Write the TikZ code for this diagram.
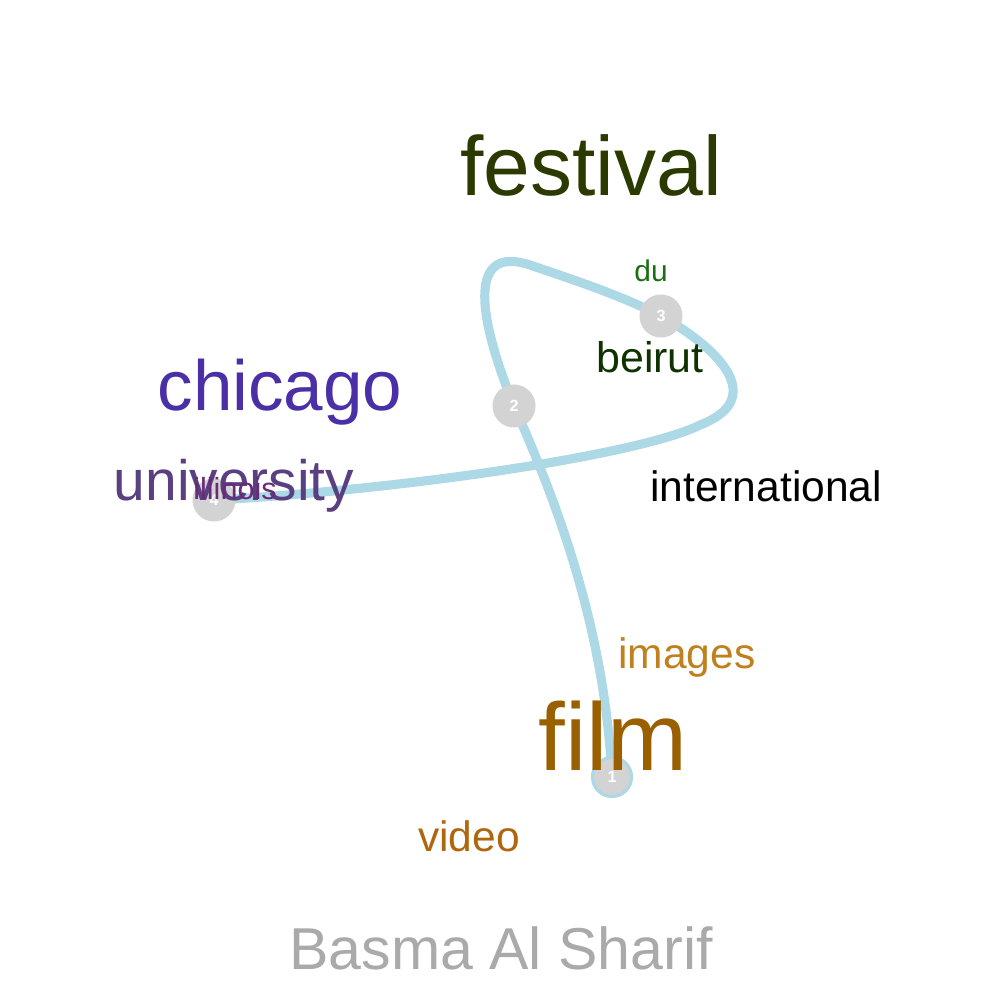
\documentclass[tikz,border=0pt]{standalone}
\usepackage{fontspec}
\setmainfont{Liberation Sans}
\usepackage{xcolor}
\usetikzlibrary{positioning}
\definecolor{trailblue}{HTML}{ADD8E6}
\definecolor{stopgray}{HTML}{D3D3D3}
\definecolor{festolive}{HTML}{2B3A00}
\definecolor{chicagoblue}{HTML}{4A2FA6}
\definecolor{univpurple}{HTML}{5A4080}
\definecolor{filmbrown}{HTML}{9A6000}
\definecolor{imagesorange}{HTML}{C0801E}
\definecolor{videoorange}{HTML}{B0660E}
\definecolor{beirutgreen}{HTML}{0F3300}
\definecolor{dugreen}{HTML}{1A7010}
\definecolor{illpurple}{HTML}{6A2A7A}
\definecolor{namegray}{HTML}{AAAAAA}

\tikzset{
  word/.style={inner sep=0pt, anchor=base},
  stop/.style={circle, fill=stopgray, minimum size=0.43cm, inner sep=0pt,
               text=white, font=\fontsize{4.6}{5}\selectfont\bfseries}
}

\begin{document}
\begin{tikzpicture}[x=0.01cm, y=-0.01cm]
    \useasboundingbox (0,0) rectangle (1000,1000);
    \coordinate (p1) at (612,777);
    \coordinate (p2) at (514,406);
    \coordinate (p3) at (661,316);
    \coordinate (p4) at (214,500);

    % trail through the stops
    \draw[trailblue, line width=2.6pt, line cap=round]
      (p1) .. controls (605,640) and (565,520) .. (p2)
           .. controls (475,310) and (470,245) .. (530,265)
           .. controls (580,282) and (622,296) .. (p3)
           .. controls (725,352) and (765,400) .. (700,425)
           .. controls (640,455) and (400,490) .. (p4);

    \node[stop, draw=trailblue, line width=0.9pt, minimum size=0.39cm] (s1) at (p1) {1};
    \node[stop] (s2) at (p2) {2};
    \node[stop] (s3) at (p3) {3};
    \node[stop] (s4) at (p4) {4};

    \node[word, text=festolive, font=\fontsize{23.9}{24}\selectfont] (festival) at (591,195) {festival};
    \node[word, text=dugreen, font=\fontsize{8.5}{9}\selectfont] (du) at (651,281) {du};
    \node[word, text=beirutgreen, font=\fontsize{12.2}{13}\selectfont] (beirut) at (650,372) {beirut};
    \node[word, text=chicagoblue, font=\fontsize{20.2}{21}\selectfont] (chicago) at (280,410) {chicago};
    \node[word, text=univpurple, font=\fontsize{16.2}{17}\selectfont] (university) at (234,500) {university};
    \node[word, text=illpurple, font=\fontsize{8.7}{9}\selectfont] (illinois) at (235,499) {illinois};
    \node[word, text=black, font=\fontsize{12.1}{13}\selectfont] (international) at (766,501) {international};
    \node[word, text=imagesorange, font=\fontsize{12.1}{13}\selectfont] (images) at (687,668) {images};
    \node[word, text=filmbrown, font=\fontsize{27.3}{28}\selectfont] (film) at (613,770) {film};
    \node[word, text=videoorange, font=\fontsize{12.1}{13}\selectfont] (video) at (469,851) {video};
    \node[word, text=namegray, font=\fontsize{16.8}{17}\selectfont] (artist) at (501,969) {Basma Al Sharif};
\end{tikzpicture}
\end{document}
